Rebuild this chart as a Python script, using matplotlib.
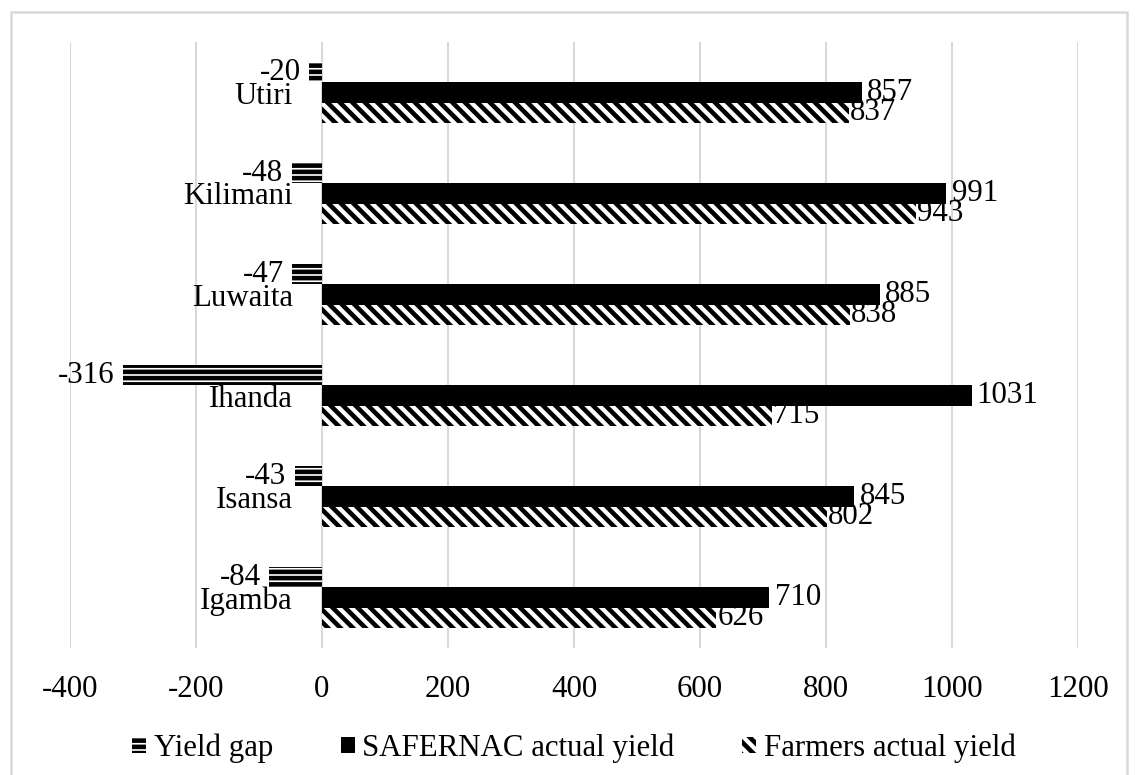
import numpy as np
import matplotlib
matplotlib.use("Agg")
import matplotlib.pyplot as plt
from matplotlib.patches import Rectangle

plt.rcParams['font.family'] = ['Liberation Serif', 'DejaVu Serif']
plt.rcParams['hatch.linewidth'] = 2.2
plt.rcParams['axes.unicode_minus'] = False

# data (bottom to top)
villages = ['Igamba', 'Isansa', 'Ihanda', 'Luwaita', 'Kilimani', 'Utiri']
yield_gap = [-84, -43, -316, -47, -48, -20]
safernac = [710, 845, 1031, 885, 991, 857]
farmers = [626, 802, 715, 838, 943, 837]

fig = plt.figure(figsize=(1137/150, 775/150), dpi=150)
ax = fig.add_axes([70/1137, 1 - 648/775, (1078 - 70)/1137, (648 - 42)/775])

y = np.arange(len(villages))
h = 0.2
fs = 14.8

b_gap = ax.barh(y + h, yield_gap, height=h, color='white', edgecolor='black',
                linewidth=0, hatch='----', label='Yield gap')
b_saf = ax.barh(y, safernac, height=h, color='black', edgecolor='black',
                linewidth=0, label='SAFERNAC actual yield')
b_far = ax.barh(y - h, farmers, height=h, color='white', edgecolor='black',
                linewidth=0, hatch='\\\\\\\\', label='Farmers actual yield')

ax.bar_label(b_gap, padding=4, fontsize=fs)
ax.bar_label(b_saf, padding=2.5, fontsize=fs)
ax.bar_label(b_far, padding=0.5, fontsize=fs)

ax.set_xlim(-400, 1200)
ax.set_ylim(-0.5, 5.5)
ax.set_xticks(np.arange(-400, 1201, 200))
ax.set_yticks(y)
ax.set_yticklabels(villages)
ax.tick_params(axis='both', length=0, labelsize=fs)
ax.tick_params(axis='y', pad=14)
ax.tick_params(axis='x', pad=13)
ax.spines['left'].set_position(('data', 0))
for s in ax.spines.values():
    s.set_visible(False)
ax.xaxis.grid(True, color='#d9d9d9', linewidth=1.0)
ax.set_axisbelow(True)

ax.legend(loc='upper center', bbox_to_anchor=(0.5, -0.095), ncol=3, frameon=False,
          fontsize=fs, handlelength=0.45, handleheight=0.45, handletextpad=0.25,
          columnspacing=2.2)

fig.patches.append(Rectangle((11/1137, -0.01), (1127 - 11)/1137, 1 - 12/775 + 0.01,
                             transform=fig.transFigure, fill=False,
                             edgecolor='#d9d9d9', linewidth=1.2))

fig.savefig('out.png', dpi=150)
